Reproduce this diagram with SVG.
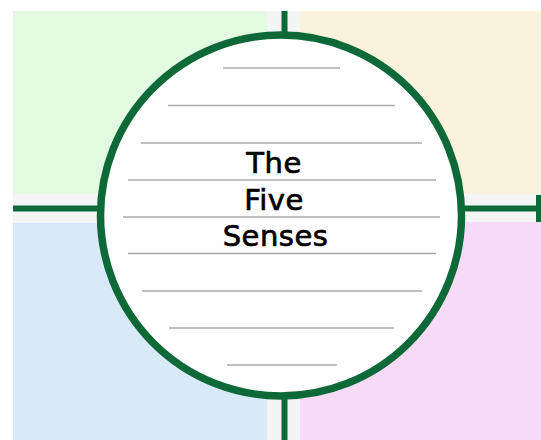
<svg xmlns="http://www.w3.org/2000/svg" width="541" height="440" viewBox="0 0 541 440">
<style>
.ln{stroke:#a8a8a8;stroke-width:1.6;fill:none}
.conn{stroke:#0d6a38;stroke-width:6;fill:none}
.t{font-family:"DejaVu Sans","Open Sans",sans-serif;font-size:29px;fill:#000;stroke:#000;stroke-width:0.7;text-anchor:middle;letter-spacing:0.5px}
</style>
<rect x="0" y="0" width="541" height="440" fill="#ffffff"/>
<rect x="13" y="11" width="528" height="429" fill="#f3f4f4"/>
<g id="q-top-left"><rect x="13" y="11" width="254" height="183" fill="#e2fae0"/></g>
<g id="q-top-right"><rect x="300" y="11" width="241" height="183" fill="#faf2dc"/></g>
<g id="q-bottom-left"><rect x="13" y="223" width="254" height="217" fill="#d8eaf8"/></g>
<g id="q-bottom-right"><rect x="300" y="222" width="241" height="218" fill="#f9dbf8"/></g>
<g id="connectors">
<line class="conn" x1="284.5" y1="11" x2="284.5" y2="40"/>
<line class="conn" x1="284.5" y1="392" x2="284.5" y2="440"/>
<line class="conn" x1="13" y1="208.5" x2="100" y2="208.5"/>
<line class="conn" x1="462" y1="208.5" x2="541" y2="208.5"/>
<line stroke="#0d6a38" stroke-width="5" x1="538.5" y1="195" x2="538.5" y2="222"/>
</g>
<g id="center">
<circle cx="281" cy="215.5" r="180.5" fill="#ffffff" stroke="#0d6a38" stroke-width="7.5"/>
<line class="ln" x1="223" y1="68" x2="340" y2="68"/>
<line class="ln" x1="168" y1="105.5" x2="395" y2="105.5"/>
<line class="ln" x1="141" y1="143" x2="422" y2="143"/>
<line class="ln" x1="128" y1="180" x2="436" y2="180"/>
<line class="ln" x1="123" y1="217" x2="440" y2="217"/>
<line class="ln" x1="128" y1="253.5" x2="436" y2="253.5"/>
<line class="ln" x1="142" y1="291" x2="422" y2="291"/>
<line class="ln" x1="169" y1="328" x2="394" y2="328"/>
<line class="ln" x1="227" y1="365" x2="337" y2="365"/>
<text class="t" x="274" y="173">The</text>
<text class="t" x="274" y="210">Five</text>
<text class="t" x="275.5" y="246">Senses</text>
</g>
</svg>
